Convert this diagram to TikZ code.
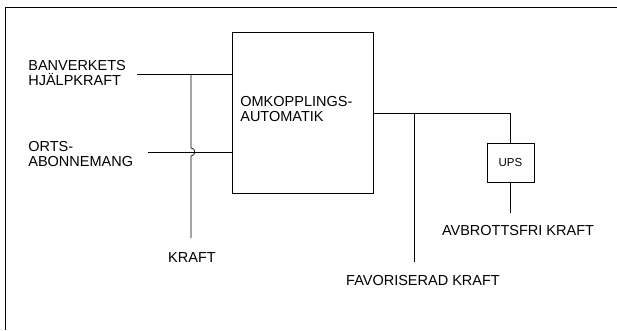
\documentclass[tikz,border=0pt]{standalone}
\usepackage{fontspec}
\setmainfont{Liberation Sans}
\usetikzlibrary{positioning, calc}

\tikzset{
  lbl/.style={font=\fontsize{14.5}{15}\selectfont, inner sep=0pt},
  blk/.style={draw, inner sep=0pt},
  wire/.style={line width=0.7pt}
}

\begin{document}
\begin{tikzpicture}[x=1pt, y=-1pt, line width=0.7pt]
  \useasboundingbox (0,0) rectangle (617,330);
  % frame: only the top and left edges are shown
  \draw[line width=1pt] (617,7) -- (5,7) -- (5,330);

  % blocks
  \node[blk, minimum width=141pt, minimum height=161pt] (omk) at (302.5,112.5) {};
  \node[lbl, align=left, anchor=base west] (omktext) at (240,121) {OMKOPPLINGS-\\AUTOMATIK};
  \node[blk, minimum width=47pt, minimum height=39pt,
        font=\fontsize{11.5}{12}\selectfont] (ups) at (510.5,162.5) {UPS};

  % labels (base anchor sits on the last line)
  \node[lbl, align=left, anchor=base west] (banv) at (28,85) {BANVERKETS\\HJÄLPKRAFT};
  \node[lbl, align=left, anchor=base west] (orts) at (28,166) {ORTS-\\ABONNEMANG};
  \node[lbl, anchor=base] (kraft) at (192,262) {KRAFT};
  \node[lbl, anchor=base] (fav) at (423,285) {FAVORISERAD KRAFT};
  \node[lbl, anchor=base] (avb) at (518,235) {AVBROTTSFRI KRAFT};

  % free ends of the wires
  \coordinate (banvEnd) at (137,74);
  \coordinate (ortsEnd) at (148,152);
  \coordinate (kraftTop) at (191,74);
  \coordinate (kraftEnd) at (191,238);
  \coordinate (favTop) at (414,113);
  \coordinate (favEnd) at (414,262);
  \coordinate (avbEnd) at (510.5,213);

  % inputs
  \draw[wire] (banvEnd) -- (banvEnd -| omk.west);
  \draw[wire] (ortsEnd) -- (ortsEnd -| omk.west);
  % tap with a jump over the lower input
  \draw[wire] (kraftTop) -- (191,148) .. controls (196,148) and (196,156) .. (191,156) -- (kraftEnd);

  % outputs
  \draw[wire] (omk.east |- favTop) -| (ups.north);
  \draw[wire] (favTop) -- (favEnd);
  \draw[wire] (ups.south) -- (avbEnd);
\end{tikzpicture}
\end{document}
